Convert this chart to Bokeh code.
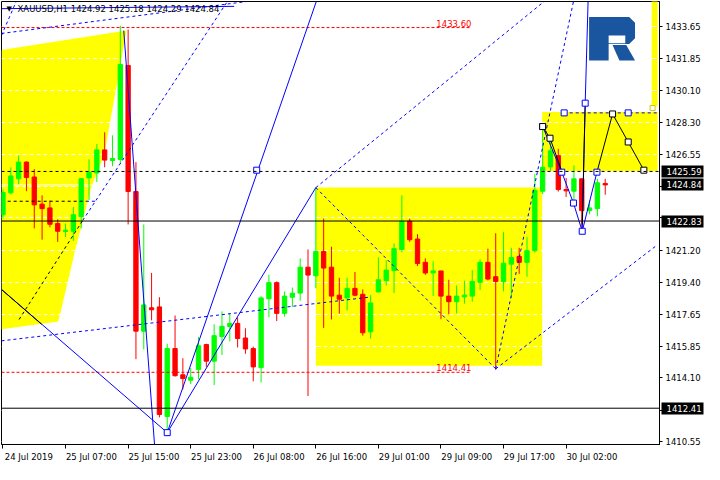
from bokeh.plotting import figure
from bokeh.models import Range1d, FixedTicker, Label, Span, ColumnDataSource, LinearAxis
from bokeh.embed import file_html
from bokeh.resources import INLINE

# ---------------- data (XAUUSD H1) ----------------
bars = list(range(78))
opens = [1423.18, 1424.40, 1425.18, 1426.11, 1425.28, 1423.77, 1423.56, 1422.69, 1422.25, 1422.26,
         1423.07, 1425.23, 1425.50, 1426.79, 1426.20, 1426.26, 1431.49, 1424.47, 1416.70, 1418.00,
         1418.05, 1411.95, 1415.73, 1414.27, 1413.97, 1414.56, 1415.95, 1415.03, 1416.40, 1416.96,
         1417.13, 1416.32, 1415.73, 1414.67, 1418.50, 1419.40, 1417.69, 1418.59, 1418.82, 1420.26,
         1419.78, 1421.13, 1420.26, 1418.70, 1418.55, 1419.08, 1418.75, 1416.66, 1418.88, 1419.51,
         1420.07, 1421.24, 1422.82, 1421.83, 1420.53, 1419.94, 1420.05, 1418.65, 1418.34, 1418.61,
         1418.65, 1419.42, 1420.53, 1419.73, 1419.46, 1420.43, 1420.86, 1420.53, 1421.18, 1424.49,
         1425.84, 1426.47, 1424.58, 1424.49, 1425.18, 1423.41, 1423.52, 1424.92]
highs = [1424.58, 1425.82, 1426.47, 1426.15, 1425.72, 1424.26, 1423.97, 1422.92, 1422.69, 1423.61,
         1425.23, 1426.26, 1427.12, 1427.77, 1427.60, 1433.70, 1433.49, 1426.11, 1422.64, 1419.94,
         1418.59, 1416.00, 1417.57, 1415.19, 1414.65, 1416.38, 1416.00, 1417.08, 1417.80, 1417.67,
         1417.46, 1416.86, 1415.84, 1418.65, 1419.83, 1419.47, 1418.91, 1419.13, 1420.75, 1421.25,
         1424.69, 1422.96, 1421.40, 1419.67, 1419.67, 1419.99, 1419.02, 1418.70, 1420.80, 1420.64,
         1421.58, 1424.26, 1422.96, 1422.10, 1420.75, 1420.59, 1420.05, 1419.56, 1419.24, 1419.51,
         1420.10, 1420.70, 1421.29, 1422.15, 1422.21, 1421.34, 1421.34, 1421.94, 1425.45, 1428.09,
         1427.33, 1426.85, 1425.23, 1425.93, 1425.18, 1424.00, 1425.18, 1425.18]
lows = [1422.96, 1424.31, 1424.87, 1424.49, 1422.42, 1421.79, 1422.48, 1421.67, 1421.94, 1421.72,
        1422.42, 1424.00, 1425.00, 1425.82, 1425.88, 1426.04, 1422.64, 1415.14, 1415.68, 1417.30,
        1411.90, 1410.98, 1414.17, 1413.46, 1413.75, 1414.02, 1414.71, 1413.70, 1415.37, 1416.13,
        1415.79, 1415.44, 1413.91, 1413.84, 1417.47, 1417.26, 1417.51, 1418.04, 1418.39, 1413.09,
        1419.09, 1416.88, 1417.35, 1417.67, 1417.85, 1418.65, 1416.45, 1416.29, 1418.88, 1419.24,
        1418.82, 1421.09, 1421.67, 1420.32, 1419.83, 1418.66, 1417.37, 1417.64, 1417.69, 1418.23,
        1418.34, 1418.99, 1419.53, 1414.55, 1418.92, 1418.54, 1419.89, 1419.73, 1421.07, 1424.33,
        1425.62, 1424.47, 1424.17, 1423.84, 1422.32, 1423.20, 1423.09, 1424.29]
closes = [1424.42, 1425.34, 1426.11, 1425.25, 1423.73, 1423.52, 1422.65, 1422.26, 1422.32, 1423.18,
          1425.19, 1425.55, 1426.79, 1426.22, 1426.31, 1431.54, 1424.47, 1416.70, 1418.16, 1417.89,
          1412.06, 1415.73, 1414.22, 1414.06, 1414.13, 1415.89, 1415.03, 1416.45, 1416.97, 1417.13,
          1416.29, 1415.71, 1414.71, 1418.55, 1419.40, 1417.69, 1418.65, 1418.81, 1420.26, 1419.82,
          1421.13, 1420.21, 1418.65, 1418.48, 1419.08, 1418.70, 1416.61, 1418.27, 1419.56, 1420.10,
          1421.29, 1422.82, 1421.79, 1420.46, 1419.94, 1420.05, 1418.65, 1418.34, 1418.65, 1418.70,
          1419.46, 1420.53, 1419.60, 1419.47, 1420.48, 1420.80, 1420.53, 1421.18, 1424.54, 1425.82,
          1426.74, 1424.58, 1424.51, 1425.18, 1423.41, 1423.56, 1424.96, 1424.84]

x_tick_bars = [0, 8, 16, 24, 32, 40, 48, 56, 64, 72]
x_tick_labels = ["24 Jul 2019", "25 Jul 07:00", "25 Jul 15:00", "25 Jul 23:00", "26 Jul 08:00",
                 "26 Jul 16:00", "29 Jul 01:00", "29 Jul 09:00", "29 Jul 17:00", "30 Jul 02:00"]
y_ticks = [1433.65, 1431.85, 1430.10, 1428.30, 1426.55, 1424.75, 1423.00, 1421.20,
           1419.40, 1417.65, 1415.85, 1414.10, 1412.30, 1410.55]
y_hidden = [1424.75, 1423.00, 1412.30]
marked_levels = [1425.59, 1424.84, 1422.83, 1412.41]
header = "XAUUSD,H1  1424.92 1425.18 1424.29 1424.84"

# analysis objects (bar index, price)
left_zone_x = [-0.19, 15.81, 12.94, 11.31, 9.19, 7.44, 7.06, -0.19]
left_zone_y = [1432.35, 1433.43, 1426.52, 1424.74, 1421.13, 1417.89, 1417.24, 1416.81]
mid_zone = (40.0, 68.94, 1414.78, 1424.69)
right_zone = (68.94, 83.7, 1425.61, 1428.90)
strip_zone = (82.94, 83.7, 1429.22, 1436.0)

solid_blue = [
    ([21.0, 40.06], [1411.05, 1435.05]),
    ([21.0, 40.0], [1411.05, 1424.69]),
    ([15.44, 19.44], [1433.43, 1410.01]),
    ([-0.19, 21.0], [1419.02, 1411.05]),
    ([-0.19, 29.56], [1434.65, 1434.78]),
    ([69.0, 71.44, 72.94, 74.06, 75.94], [1428.09, 1425.55, 1423.83, 1422.26, 1425.55]),
    ([74.06, 74.44, 74.81], [1422.26, 1429.39, 1435.05]),
]
dashed_blue = [
    ([-0.19, 31.19], [1433.27, 1435.05]),
    ([-0.19, 1.69], [1433.16, 1435.05]),
    ([10.19, 28.69], [1422.86, 1435.05]),
    ([-0.19, 46.8], [1416.16, 1418.59]),
    ([63.0, 83.69], [1414.6, 1421.51]),
    ([63.0, 72.94], [1414.6, 1435.05]),
    ([40.0, 63.0], [1424.69, 1414.6]),
    ([40.0, 69.19], [1424.69, 1435.05]),
    ([71.69, 83.7], [1428.85, 1428.85]),
    ([10.6, 11.8], [1423.93, 1423.93]),
]
solid_black = [
    ([-0.19, 4.94], [1419.02, 1417.08]),
    ([69.0, 69.94, 71.44], [1428.09, 1427.44, 1425.61]),
    ([74.06, 74.44], [1422.64, 1429.39]),
    ([75.94, 77.94, 79.94, 81.94], [1425.55, 1428.79, 1427.23, 1425.66]),
]
dashed_black = [
    ([2.06, 10.19], [1417.35, 1422.86]),
    ([0.6, 10.6], [1423.93, 1423.93]),
]
blue_marks_x = [21.0, 32.44, 69.0, 71.44, 72.94, 74.06, 75.94, 74.44, 71.75, 79.94]
blue_marks_y = [1411.05, 1425.66, 1428.09, 1425.55, 1423.83, 1422.26, 1425.55, 1429.39, 1428.85, 1428.85]
black_marks_x = [69.0, 69.94, 77.94, 79.94, 81.94]
black_marks_y = [1428.09, 1427.44, 1428.79, 1427.23, 1425.66]

red_levels = [1433.60, 1414.41]
red_level_end = 59.9

# ---------------- figure ----------------
FONT = "DejaVu Sans"
X0, X1 = -0.19, 83.94
p = figure(width=704, height=464, output_backend="svg", toolbar_location=None,
           x_range=Range1d(X0, X1), y_range=Range1d(1410.39, 1435.05),
           y_axis_location="right", min_border_left=1, min_border_top=1,
           min_border_right=0, min_border_bottom=0)
p.background_fill_color = "white"
p.border_fill_color = "white"
p.outline_line_color = "black"

# axes
yax = p.yaxis[0]
yax.ticker = FixedTicker(ticks=y_ticks)
yax.major_label_overrides = {t: ("" if t in y_hidden else f"{t:.2f}") for t in y_ticks}
yax.major_label_text_font = FONT
yax.major_label_text_font_size = "8.5px"
yax.major_label_text_color = "black"
yax.major_tick_out = 3
yax.major_tick_in = 0
yax.minor_tick_line_color = None
yax.axis_line_color = "black"
yax.major_label_standoff = 3

# second right axis: black price boxes drawn back over the price scale
W_EST = 43
box_axis = LinearAxis(ticker=FixedTicker(ticks=marked_levels),
                      major_label_overrides={lv: f"{lv:.2f}" for lv in marked_levels},
                      axis_line_color=None, minor_tick_line_color=None,
                      major_tick_line_color="black", major_tick_line_width=12,
                      major_tick_in=W_EST - 1, major_tick_out=0,
                      major_label_text_color="white", major_label_text_font=FONT,
                      major_label_text_font_size="8.5px", major_label_standoff=6 - W_EST)
p.add_layout(box_axis, "right")

shift = 3.3
xax = p.xaxis[0]
xax.ticker = FixedTicker(ticks=[b + shift for b in x_tick_bars], minor_ticks=x_tick_bars)
xax.major_label_overrides = {b + shift: lab for b, lab in zip(x_tick_bars, x_tick_labels)}
xax.major_label_text_font = FONT
xax.major_label_text_font_size = "8.5px"
xax.major_label_text_color = "black"
xax.major_tick_out = 0
xax.major_tick_in = 0
xax.major_tick_line_color = None
xax.minor_tick_out = 4
xax.minor_tick_in = 0
xax.minor_tick_line_color = "black"
xax.axis_line_color = "black"
xax.major_label_standoff = 3

p.xgrid.visible = False
p.ygrid.ticker = FixedTicker(ticks=y_ticks)
p.ygrid.grid_line_color = "white"
p.ygrid.grid_line_dash = "4 3"

# yellow zones (background)
YEL = "#FFFF00"
p.patch(left_zone_x, left_zone_y, fill_color=YEL, line_color=None, level="image")
for z in (mid_zone, right_zone, strip_zone):
    p.quad(left=z[0], right=z[1], bottom=z[2], top=z[3], fill_color=YEL, line_color=None, level="image")

p.add_layout(Span(location=1424.84, dimension="width", line_color="white", line_width=1, level="underlay"))

# candles
colors = ["#00FF00" if c >= o else "#FF0000" for o, c in zip(opens, closes)]
src = ColumnDataSource(dict(x=bars, o=opens, h=highs, l=lows, c=closes,
                            top=[max(o, c) for o, c in zip(opens, closes)],
                            bottom=[min(o, c) for o, c in zip(opens, closes)],
                            color=colors))
p.segment(x0="x", y0="l", x1="x", y1="h", line_color="color", line_width=1, source=src)
p.vbar(x="x", width=0.55, top="top", bottom="bottom", fill_color="color",
       line_color="color", line_width=1, source=src)

# levels
for lv in red_levels:
    p.segment(x0=X0, y0=lv, x1=red_level_end, y1=lv, line_color="#FF0000", line_dash="3 2", line_width=1)
    p.add_layout(Label(x=red_level_end, y=lv, text=f"{lv:.2f}", text_align="right",
                       text_baseline="bottom", text_color="#FF0000", text_font=FONT,
                       text_font_size="8.5px", y_offset=1))
p.add_layout(Span(location=1422.83, dimension="width", line_color="black", line_width=1))
p.add_layout(Span(location=1412.41, dimension="width", line_color="black", line_width=1))
p.add_layout(Span(location=1425.59, dimension="width", line_color="black", line_width=1, line_dash="3 3"))

# analysis lines
for xs, ys in dashed_black:
    p.line(xs, ys, line_color="black", line_dash="3 3", line_width=1)
for xs, ys in dashed_blue:
    p.line(xs, ys, line_color="#0000FF", line_dash="3 3", line_width=1)
for xs, ys in solid_blue:
    p.line(xs, ys, line_color="#0000FF", line_width=1)
for xs, ys in solid_black:
    p.line(xs, ys, line_color="black", line_width=1)
p.scatter(blue_marks_x, blue_marks_y, marker="square", size=6, fill_color="white", line_color="#0000FF")
p.scatter(black_marks_x, black_marks_y, marker="square", size=6, fill_color="white", line_color="black")
p.scatter([83.06], [1429.12], marker="square", size=5, fill_color="white", line_color="#CCCC00")

# logo (reference pixel outline mapped to chart coordinates)
def px(x, y):
    return (x - 3.5) / 8.0, 1435.16 - 0.05397 * y
logo_main = [(603, 18), (644, 18), (650, 24), (650, 40), (644, 46), (623, 46), (623, 63), (603, 63)]
logo_leg = [(627, 47), (641, 47), (650, 63), (634, 63)]
logo_slot = [(623, 37), (640, 37), (640, 45), (623, 45)]
for poly, col in ((logo_main, "#1a56a0"), (logo_leg, "#1a56a0"), (logo_slot, "white")):
    pts = [px(a, b) for a, b in poly]
    p.patch([q[0] for q in pts], [q[1] for q in pts], fill_color=col, line_color=None)

# header
p.add_layout(Label(x=5, y=1434.62, text="▼", text_font=FONT, text_font_size="7px",
                   text_baseline="middle", text_color="black", x_units="screen"))
p.add_layout(Label(x=16, y=1434.62, text=header, text_font=FONT, text_font_size="8.5px",
                   text_baseline="middle", text_color="black", x_units="screen"))

open("out.html", "w").write(file_html(p, INLINE))
